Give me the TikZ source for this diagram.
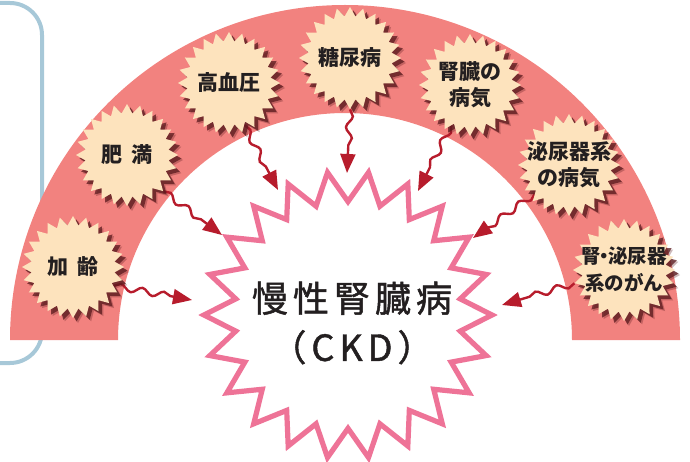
\documentclass[tikz,border=0pt]{standalone}
\usepackage{fontspec}
\newfontfamily\jp{Noto Sans CJK JP}
\newfontfamily\jpbig[LetterSpace=14,FakeBold=1.3]{Noto Sans CJK JP}
\usetikzlibrary{shapes.geometric,shadows,decorations.pathmorphing,arrows.meta}
\definecolor{archcol}{HTML}{F2827F}
\definecolor{starfill}{HTML}{FDE3BD}
\definecolor{shadowcol}{HTML}{5A1A1E}
\definecolor{bigpink}{HTML}{EE7397}
\definecolor{arrowred}{HTML}{B71C2C}
\definecolor{frameblue}{HTML}{A7C8D8}
\definecolor{txt}{HTML}{231F20}
\pgfdeclarelayer{bg}
\pgfdeclarelayer{arrowlayer}
\pgfsetlayers{bg,arrowlayer,main}
\begin{document}
\begin{tikzpicture}[x=1pt,y=1pt,
 causestar/.style={star, star points=24, star point ratio=1.22, minimum size=102pt, inner sep=0pt,
   fill=starfill, draw=none,
   drop shadow={shadow xshift=5pt, shadow yshift=-5pt, fill=shadowcol, opacity=0.3},
   drop shadow={shadow xshift=3.5pt, shadow yshift=-3.5pt, fill=shadowcol, opacity=0.75}},
 causelabel/.style={font=\jp\bfseries\fontsize{21}{26}\selectfont, text=txt, align=center, inner sep=0pt},
 ckdstar/.style={star, star points=22, star point ratio=1.27, minimum size=288pt, shape border rotate=8.1818,
   draw=bigpink, line width=5.2pt, fill=white, inner sep=0pt},
 wave/.style={arrowred, line width=2.4pt, decorate,
   decoration={snake, amplitude=3.2pt, segment length=22pt, post length=18pt},
   -{Triangle[length=19pt,width=15pt]}},
]
\path[use as bounding box] (0,0) rectangle (690,-462);
\clip (0,0) rectangle (690,-462);

\begin{pgfonlayer}{bg}
 \draw[frameblue, line width=4pt, rounded corners=32pt] (-30,-3) -- (42,-3) -- (42,-363) -- (-30,-363);
 \fill[archcol] (10,-340) arc[start angle=180, end angle=0, radius=335]
   -- (572,-340) arc[start angle=0, end angle=180, radius=227] -- cycle;
\end{pgfonlayer}

% central star
\node[ckdstar] (ckd) at (348,-315) {};
\node[font=\jpbig\fontsize{36}{49}\selectfont, text=txt, align=center] (ckdtext) at (352,-323) {慢性腎臓病\\（CKD）};

% cause stars
\node[causestar] (s1) at (73,-267) {};
\node[causestar] (s2) at (127,-155) {};
\node[causestar] (s3) at (229,-83) {};
\node[causestar] (s4) at (350,-58) {};
\node[causestar] (s5) at (470,-85) {};
\node[causestar] (s6) at (569,-165) {};
\node[causestar] (s7) at (624,-270) {};

\node[causelabel] (l1) at (s1) {加\hspace{.4em}齢};
\node[causelabel] (l2) at (s2) {肥\hspace{.4em}満};
\node[causelabel] (l3) at (s3) {高血圧};
\node[causelabel] (l4) at (s4) {糖尿病};
\node[causelabel] (l5) at (s5) {腎臓の\\病気};
\node[causelabel] (l6) at (s6) {泌尿器系\\の病気};
\node[causelabel, font=\jp\bfseries\fontsize{19.5}{27}\selectfont] (l7) at (s7) {腎\kern-.3em・\kern-.3em泌尿器\\系のがん};

% arrows
\coordinate (t1) at (192,-300);
\coordinate (t2) at (222,-235);
\coordinate (t3) at (278,-190);
\coordinate (t4) at (347,-173);
\coordinate (t5) at (418,-191);
\coordinate (t6) at (473,-238);
\coordinate (t7) at (502,-305);
\begin{pgfonlayer}{arrowlayer}
 \draw[wave] (s1.-25) -- (t1);
 \draw[wave] (s2.-45) -- (t2);
 \draw[wave] (s3.-70) -- (t3);
 \draw[wave] (s4.-90) -- (t4);
 \draw[wave] (s5.-115) -- (t5);
 \draw[wave] (s6.-140) -- (t6);
 \draw[wave] (s7.-165) -- (t7);
\end{pgfonlayer}
\end{tikzpicture}
\end{document}
